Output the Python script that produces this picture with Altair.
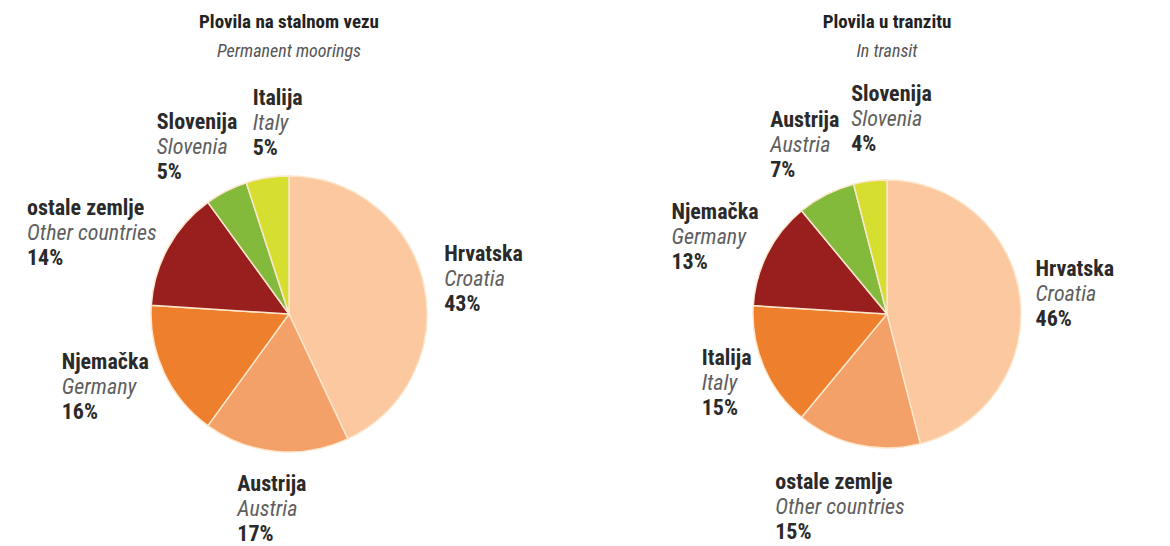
import altair as alt
import pandas as pd
import numpy as np

# ---- data ----
left_title = "Plovila na stalnom vezu"
left_subtitle = "Permanent moorings"
left_names = ["Hrvatska", "Austrija", "Njemačka", "ostale zemlje", "Slovenija", "Italija"]
left_names_en = ["Croatia", "Austria", "Germany", "Other countries", "Slovenia", "Italy"]
left_values = [43, 17, 16, 14, 5, 5]

right_title = "Plovila u tranzitu"
right_subtitle = "In transit"
right_names = ["Hrvatska", "ostale zemlje", "Italija", "Njemačka", "Austrija", "Slovenija"]
right_names_en = ["Croatia", "Other countries", "Italy", "Germany", "Austria", "Slovenia"]
right_values = [46, 15, 15, 13, 7, 4]

# ---- style ----
palette = ["#FBC8A0", "#F4A169", "#EE7F2C", "#981F1E", "#84BA3C", "#D6DE2F"]
FONT = "Roboto Condensed, Liberation Sans Narrow, DejaVu Sans Condensed, sans-serif"
LABEL_SIZE = 22
LINE = 25
CAP = 16
GAP = 14

NARROW = set("ijltfrI")
WIDE = set("mwMW")


def est_width(s):
    em = 0.0
    for ch in s:
        if ch in NARROW:
            em += 0.25
        elif ch in WIDE:
            em += 0.7
        elif ch == " ":
            em += 0.22
        elif ch == "%":
            em += 0.6
        elif ch.isdigit():
            em += 0.5
        elif ch.isupper():
            em += 0.55
        else:
            em += 0.45
    return em * LABEL_SIZE * 1.05


def layout_labels(names, names_en, values, rx, ry):
    total = float(sum(values))
    boxes = []
    cum = 0.0
    for i, (n, e, v) in enumerate(zip(names, names_en, values)):
        a = 2 * np.pi * (cum + v / 2.0) / total
        cum += v
        pct = f"{v}%"
        w = max(est_width(n), est_width(e), est_width(pct))
        h = 2 * LINE + CAP
        ax = rx * np.sin(a)
        ay = -ry * np.cos(a)
        left = ax - w * (1 - np.sin(a)) / 2
        top = ay - h * (0.5 + 0.5 * np.cos(a) ** 3)
        boxes.append(dict(order=i, name=n, en=e, value=v, pct=pct,
                          left=left, top=top, w=w, h=h))
    # simple collision resolution: push later (clockwise) labels to the right
    for j in range(len(boxes)):
        for i in range(j):
            bi, bj = boxes[i], boxes[j]
            if (bj["left"] < bi["left"] + bi["w"] and bi["left"] < bj["left"] + bj["w"]
                    and bj["top"] < bi["top"] + bi["h"] and bi["top"] < bj["top"] + bj["h"]):
                bj["left"] = bi["left"] + bi["w"] + GAP
    rows = []
    for b in boxes:
        rows.append(dict(order=b["order"], name=b["name"], en=b["en"], value=b["value"],
                         pct=b["pct"], lx=b["left"],
                         y0=-(b["top"] + CAP), y1=-(b["top"] + CAP + LINE),
                         y2=-(b["top"] + CAP + 2 * LINE)))
    return pd.DataFrame(rows)


def panel(names, names_en, values, title, subtitle, width, height, cy_top, radius, rx, ry):
    df = layout_labels(names, names_en, values, rx, ry)
    xs = alt.Scale(domain=[-width / 2, width / 2], nice=False, zero=False)
    ys = alt.Scale(domain=[-(height - cy_top), cy_top], nice=False, zero=False)
    base = alt.Chart(df)
    pie = base.mark_arc(radius=radius, stroke="#FCE6CC", strokeWidth=1.5).encode(
        theta=alt.Theta("value:Q", stack=True),
        order=alt.Order("order:Q", sort="ascending"),
        color=alt.Color("name:N", scale=alt.Scale(domain=names, range=palette), legend=None),
        x=alt.XDatum(0, type="quantitative", scale=xs, axis=None),
        y=alt.YDatum(0, type="quantitative", scale=ys, axis=None),
    )
    common = dict(font=FONT, fontSize=LABEL_SIZE, align="left", baseline="alphabetic")
    t0 = base.mark_text(fontWeight="bold", color="#2a2a2a", **common).encode(
        x=alt.X("lx:Q", scale=xs, axis=None), y=alt.Y("y0:Q", scale=ys, axis=None), text="name:N")
    t1 = base.mark_text(fontStyle="italic", color="#5f5f5f", **common).encode(
        x=alt.X("lx:Q", scale=xs, axis=None), y=alt.Y("y1:Q", scale=ys, axis=None), text="en:N")
    t2 = base.mark_text(fontWeight="bold", color="#2a2a2a", **common).encode(
        x=alt.X("lx:Q", scale=xs, axis=None), y=alt.Y("y2:Q", scale=ys, axis=None), text="pct:N")
    return alt.layer(pie, t0, t1, t2).properties(
        width=width, height=height,
        view=alt.ViewBackground(stroke="transparent", strokeWidth=0),
        title=alt.TitleParams(
            text=title, subtitle=subtitle, font=FONT, fontSize=19, fontWeight="bold", color="#222222",
            subtitleFont=FONT, subtitleFontSize=18, subtitleFontStyle="italic", subtitleColor="#555555",
            anchor="middle", frame="group", offset=12, subtitlePadding=11,
        ),
    )


left = panel(left_names, left_names_en, left_values, left_title, left_subtitle,
             552, 455, 241, 138, 160, 162)
right = panel(right_names, right_names_en, right_values, right_title, right_subtitle,
              540, 455, 241, 134, 150, 165)

chart = (
    alt.hconcat(left, right, spacing=52)
    .resolve_scale(color="independent")
    .configure_view(stroke="transparent", strokeWidth=0)
    .configure(background="white")
)
chart.save("out.html", embed_options={"renderer": "svg", "actions": False})
